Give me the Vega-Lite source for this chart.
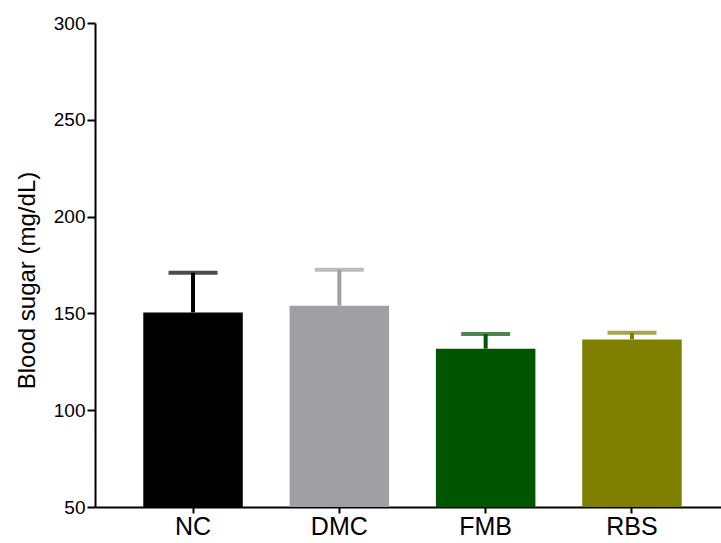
{
  "$schema": "https://vega.github.io/schema/vega-lite/v6.json",
  "autosize": "none",
  "padding": {"left": 95, "top": 23, "right": 0, "bottom": 36},
  "width": 635,
  "height": 484,
  "background": "white",
  "config": {
    "font": "Liberation Sans",
    "view": {"stroke": null},
    "axis": {"domainColor": "black", "tickColor": "black", "labelColor": "black", "titleColor": "black", "domainWidth": 2, "tickWidth": 2, "grid": false}
  },
  "data": {
    "values": [
      {"group": "NC", "mean": 150.5, "upper": 171.0},
      {"group": "DMC", "mean": 154.0, "upper": 172.5},
      {"group": "FMB", "mean": 131.8, "upper": 139.3},
      {"group": "RBS", "mean": 136.5, "upper": 140.0}
    ]
  },
  "encoding": {
    "x": {
      "field": "group", "type": "nominal", "sort": null,
      "scale": {"paddingInner": 0.32, "paddingOuter": 0.33},
      "axis": {"title": null, "labelAngle": 0, "labelFontSize": 25, "tickSize": 6, "labelPadding": 1}
    },
    "color": {
      "field": "group", "type": "nominal", "legend": null,
      "scale": {"domain": ["NC", "DMC", "FMB", "RBS"], "range": ["#000000", "#a09fa4", "#005500", "#808000"]}
    }
  },
  "layer": [
    {
      "mark": {"type": "rule", "strokeWidth": 4},
      "encoding": {
        "y": {"field": "mean", "type": "quantitative"},
        "y2": {"field": "upper"}
      }
    },
    {
      "mark": {"type": "tick", "thickness": 4, "size": 49},
      "encoding": {
        "y": {"field": "upper", "type": "quantitative"}
      }
    },
    {
      "mark": {"type": "bar"},
      "encoding": {
        "y": {
          "field": "mean", "type": "quantitative",
          "scale": {"domain": [50, 300], "nice": false, "zero": false},
          "axis": {"title": "Blood sugar (mg/dL)", "values": [50, 100, 150, 200, 250, 300], "labelFontSize": 19, "tickSize": 8, "labelPadding": 2, "titleFontSize": 24, "titleFontWeight": "normal", "titlePadding": 14, "titleY": 257}
        },
        "y2": {"datum": 50}
      }
    }
  ]
}
